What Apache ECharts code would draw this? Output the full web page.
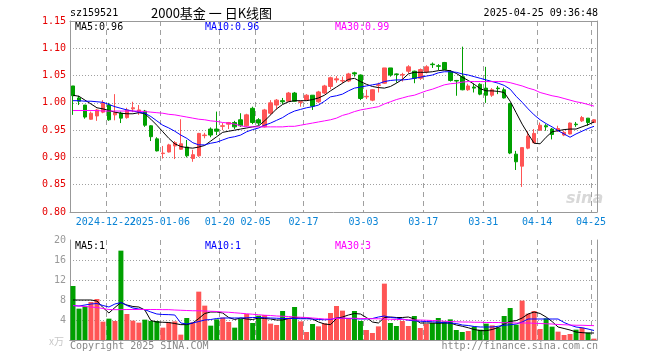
<!DOCTYPE html>
<html><head><meta charset="utf-8">
<script src="https://cdn.jsdelivr.net/npm/echarts@6/dist/echarts.min.js"></script>
<style>html,body{margin:0;padding:0;background:#fff}#c{width:660px;height:360px}</style>
</head><body><div id="c"></div>
<script>
const dates = [
'2024-12-13','2024-12-16','2024-12-17','2024-12-18','2024-12-19','2024-12-20','2024-12-23','2024-12-24','2024-12-25','2024-12-26','2024-12-27','2024-12-30','2024-12-31',
'2025-01-02','2025-01-03','2025-01-06','2025-01-07','2025-01-08','2025-01-09','2025-01-10','2025-01-13','2025-01-14','2025-01-15','2025-01-16','2025-01-17','2025-01-20','2025-01-21','2025-01-22','2025-01-23','2025-01-24','2025-01-27',
'2025-02-05','2025-02-06','2025-02-07','2025-02-10','2025-02-11','2025-02-12','2025-02-13','2025-02-14','2025-02-17','2025-02-18','2025-02-19','2025-02-20','2025-02-21','2025-02-24','2025-02-25','2025-02-26','2025-02-27','2025-02-28',
'2025-03-03','2025-03-04','2025-03-05','2025-03-06','2025-03-07','2025-03-10','2025-03-11','2025-03-12','2025-03-13','2025-03-14','2025-03-17','2025-03-18','2025-03-19','2025-03-20','2025-03-21','2025-03-24','2025-03-25','2025-03-26','2025-03-27','2025-03-28','2025-03-31',
'2025-04-01','2025-04-02','2025-04-03','2025-04-07','2025-04-08','2025-04-09','2025-04-10','2025-04-11','2025-04-14','2025-04-15','2025-04-16','2025-04-17','2025-04-18','2025-04-21','2025-04-22','2025-04-23','2025-04-24','2025-04-25'];

const opens = [1.031,1.009,0.996,0.970,0.976,0.983,0.996,0.978,0.981,0.973,
0.989,0.983,0.985,0.958,0.934,0.907,0.910,0.921,0.915,0.919,
0.898,0.903,0.940,0.952,0.952,0.957,0.961,0.964,0.969,0.958,
0.990,0.969,0.956,0.981,0.996,1.004,1.003,1.018,1.001,1.005,
1.014,1.002,1.018,1.030,1.042,1.040,1.040,1.055,1.051,1.011,
1.005,1.032,1.036,1.064,1.053,1.051,1.058,1.058,1.045,1.057,
1.071,1.068,1.074,1.057,1.041,1.048,1.024,1.029,1.034,1.027,
1.014,1.027,1.024,0.999,0.906,0.884,0.917,0.927,0.950,0.958,
0.952,0.949,0.941,0.943,0.961,0.967,0.972,0.964];

const closes = [1.013,1.003,0.974,0.981,0.987,1.000,0.969,0.982,0.972,0.987,
0.991,0.987,0.959,0.938,0.912,0.908,0.923,0.927,0.925,0.903,
0.905,0.944,0.941,0.941,0.948,0.958,0.964,0.956,0.958,0.978,
0.964,0.963,0.987,1.000,1.005,1.002,1.018,1.003,1.002,1.014,
0.994,1.020,1.031,1.046,1.044,1.041,1.053,1.053,1.008,1.012,
1.024,1.033,1.064,1.051,1.052,1.052,1.066,1.045,1.061,1.066,
1.070,1.067,1.061,1.041,1.040,1.024,1.031,1.027,1.016,1.014,
1.024,1.026,1.009,0.908,0.892,0.918,0.939,0.944,0.959,0.956,
0.942,0.953,0.946,0.963,0.960,0.973,0.964,0.969];

const lows = [0.978,0.996,0.971,0.969,0.967,0.981,0.967,0.968,0.963,0.971,
0.983,0.978,0.956,0.930,0.911,0.898,0.909,0.897,0.914,0.900,
0.892,0.901,0.935,0.937,0.941,0.950,0.952,0.952,0.956,0.956,
0.961,0.959,0.955,0.978,0.988,0.998,1.002,1.002,0.993,1.004,
0.987,1.000,1.016,1.025,1.037,1.036,1.038,1.048,1.005,1.007,
1.003,1.019,1.035,1.048,1.037,1.039,1.054,1.036,1.042,1.054,
1.064,1.060,1.060,1.039,1.013,1.023,1.022,1.019,1.014,1.000,
1.011,1.016,1.008,0.906,0.877,0.846,0.915,0.926,0.949,0.949,
0.933,0.947,0.939,0.942,0.956,0.965,0.958,0.963];

const highs = [1.031,1.013,0.996,0.984,0.989,1.005,1.000,1.016,0.984,0.991,
1.002,0.996,0.987,0.959,0.937,0.921,0.925,0.930,0.970,0.932,
0.914,0.945,0.945,0.955,0.984,0.963,0.965,0.967,0.981,0.980,
0.993,0.972,0.989,1.005,1.007,1.009,1.020,1.020,1.004,1.016,
1.014,1.022,1.033,1.048,1.049,1.048,1.055,1.057,1.052,1.024,
1.025,1.037,1.064,1.064,1.054,1.055,1.069,1.059,1.063,1.069,
1.074,1.071,1.075,1.060,1.042,1.103,1.035,1.035,1.036,1.066,
1.027,1.031,1.028,0.999,0.912,0.918,0.948,0.952,0.964,0.961,
0.954,0.958,0.949,0.964,0.965,0.976,0.972,0.970];

const ma5 = [1.014,1.012,1.005,0.998,0.991,0.989,0.986,0.983,0.981,0.980,
0.980,0.982,0.980,0.970,0.959,0.947,0.935,0.925,0.920,0.918,
0.917,0.919,0.922,0.930,0.938,0.946,0.948,0.950,0.952,0.954,
0.956,0.958,0.967,0.978,0.989,0.997,1.002,1.004,1.004,1.004,
1.006,1.009,1.014,1.022,1.029,1.036,1.043,1.045,1.039,1.034,
1.030,1.028,1.027,1.030,1.036,1.043,1.053,1.056,1.056,1.056,
1.057,1.059,1.060,1.059,1.054,1.047,1.041,1.034,1.026,1.022,
1.022,1.021,1.019,1.003,0.982,0.961,0.943,0.926,0.925,0.937,
0.947,0.949,0.951,0.952,0.952,0.956,0.960,0.965];

const ma10 = [1.004,1.004,1.003,1.003,1.002,1.001,0.997,0.993,0.990,0.987,
0.985,0.983,0.981,0.975,0.967,0.959,0.954,0.948,0.941,0.935,
0.927,0.923,0.923,0.926,0.928,0.932,0.936,0.938,0.941,0.947,
0.951,0.954,0.959,0.963,0.968,0.973,0.980,0.985,0.988,0.991,
0.993,0.996,1.003,1.011,1.013,1.016,1.022,1.027,1.029,1.031,
1.033,1.035,1.039,1.041,1.042,1.042,1.043,1.045,1.047,1.049,
1.051,1.055,1.057,1.057,1.056,1.053,1.051,1.048,1.045,1.042,
1.039,1.036,1.032,1.025,1.012,1.001,0.989,0.978,0.969,0.962,
0.956,0.949,0.943,0.937,0.943,0.948,0.953,0.957];

const ma30 = [0.986,0.986,0.986,0.986,0.986,0.985,0.985,0.985,0.985,0.985,
0.985,0.985,0.984,0.983,0.982,0.981,0.979,0.978,0.976,0.974,
0.972,0.970,0.969,0.967,0.966,0.964,0.963,0.961,0.958,0.956,
0.956,0.956,0.956,0.956,0.956,0.956,0.957,0.957,0.959,0.961,
0.963,0.965,0.967,0.969,0.972,0.977,0.980,0.984,0.987,0.989,
0.991,0.993,0.998,1.002,1.006,1.009,1.012,1.014,1.018,1.022,
1.025,1.029,1.033,1.035,1.036,1.038,1.039,1.039,1.039,1.039,
1.039,1.039,1.039,1.037,1.034,1.031,1.027,1.024,1.019,1.016,
1.013,1.011,1.008,1.005,1.002,1.000,0.997,0.994];

const volumes = [10.8,6.27,6.73,7.6,8.2,3.67,4.27,3.8,17.87,5.2,
3.87,3.47,4.07,3.8,3.8,2.47,3.53,3.73,1.07,4.4,
3.53,9.67,6.87,2.87,4.13,4.47,3.6,2.47,4.27,5.2,
3.4,4.87,5.0,3.27,3.0,5.8,4.47,6.6,3.73,1.6,
3.2,2.73,3.33,5.4,6.8,5.87,4.4,5.8,3.8,2.0,
1.4,2.73,11.27,3.4,2.8,3.8,2.8,4.8,2.4,3.2,
3.4,4.4,3.73,4.13,2.0,1.6,1.8,2.67,2.07,3.27,
2.93,2.53,4.8,6.4,3.07,7.87,5.27,5.8,2.2,4.33,
2.67,1.67,1.0,1.2,2.07,2.47,1.47,0.27];

const volMa5 = [8.0,8.0,8.0,8.0,7.8,6.5,5.4,6.5,7.5,7.0,
6.7,6.6,6.0,3.9,3.6,3.55,3.5,3.3,3.07,3.07,
3.4,4.3,5.3,5.6,5.6,5.4,4.5,4.1,4.4,4.2,
4.1,4.4,4.3,4.2,4.0,4.0,4.3,4.5,4.4,4.4,
4.2,3.6,3.2,3.07,4.3,4.6,5.0,5.3,5.2,4.5,
3.6,3.4,4.5,4.6,4.5,4.5,4.6,4.2,3.4,3.4,
3.4,3.35,3.4,3.4,3.0,2.75,2.45,2.1,1.87,1.87,
2.1,2.5,3.2,3.73,3.87,4.4,5.2,5.6,5.3,4.6,
3.7,2.6,2.3,2.0,1.6,1.47,1.4,1.4];

const volMa10 = [6.9,6.8,7.0,7.2,7.3,6.9,6.6,7.2,7.5,6.9,
6.4,6.2,6.07,5.6,5.2,5.1,5.07,5.0,3.4,3.2,
3.4,3.7,4.0,4.1,4.3,4.4,4.4,4.4,4.4,4.45,
4.5,4.5,4.45,4.4,4.35,4.3,4.3,4.3,4.25,4.25,
4.2,4.1,4.05,4.1,4.4,4.35,4.3,4.25,4.2,4.2,
4.3,4.6,4.8,4.5,4.4,4.2,3.95,3.85,3.75,3.7,
3.65,3.55,3.45,3.4,3.3,3.0,2.9,2.7,2.6,2.6,
2.6,2.75,2.95,3.05,3.2,3.6,4.2,4.2,4.2,4.2,
4.2,4.2,3.5,3.0,2.6,2.45,2.2,1.9];

const volMa30 = [6.87,6.8,6.7,6.6,6.5,6.3,6.1,6.07,6.07,6.1,
6.1,6.1,6.1,6.1,6.1,6.07,6.07,6.0,5.95,5.9,
5.85,5.85,5.8,5.75,5.7,5.6,5.55,5.45,5.35,5.25,
5.15,5.05,4.95,4.9,4.8,4.75,4.7,4.6,4.55,4.5,
4.4,4.3,4.2,4.2,4.3,4.35,4.35,4.35,4.3,4.3,
4.25,4.25,4.2,4.15,4.1,4.1,4.05,4.0,4.0,3.95,
3.9,3.85,3.75,3.7,3.65,3.6,3.6,3.55,3.55,3.5,
3.5,3.5,3.45,3.45,3.4,3.4,3.4,3.35,3.3,3.25,
3.2,3.1,3.05,3.0,2.95,2.95,2.9,2.87];

const tickIndex = [6,15,25,31,39,49,59,69,78,87];
const tickLabels = ['2024-12-22','2025-01-06','01-20','02-05','02-17','03-03','03-17','03-31','04-14','04-25'];

const headerCode = 'sz159521';
const headerTitle = '2000基金 一 日K线图';
const headerTime = '2025-04-25 09:36:48';
const priceMaText = ['MA5:0.96','MA10:0.96','MA30:0.99'];
const volMaText = ['MA5:1','MA10:1','MA30:3'];

const UP = '#ff5555', DOWN = '#00a000';
const FRAMEC = '#999999';
const GRIDC = '#a0a0a0';
const MONO = '"DejaVu Sans Mono", monospace';
const tickMap = new Map(tickIndex.map((v,k)=>[v,tickLabels[k]]));
const isTick = (i)=>tickMap.has(i);
const isTickA = (i)=>isTick(i) && tickIndex.indexOf(i)%2===0;
const isTickB = (i)=>isTick(i) && tickIndex.indexOf(i)%2===1;

const chart = echarts.init(document.getElementById('c'));
const txt = (text,x,y,color,font,align)=>({type:'text', silent:true, style:{text, x, y, fill:color, font, align:align||'left', verticalAlign:'middle'}});
const mkLine = (data, color, xi, yi)=>({type:'line', data, xAxisIndex:xi, yAxisIndex:yi, symbol:'none', showSymbol:false, silent:true, lineStyle:{color, width:1}, z:5});
// ticks kept "on" but invisible: split lines follow the tick computation
const hiddenTickX = {show:true, length:0, interval:(i)=>isTick(i), lineStyle:{color:'rgba(0,0,0,0)'}};
const hiddenTickY = {show:true, length:0, lineStyle:{color:'rgba(0,0,0,0)'}};
const vSplit = {show:true, interval:(i)=>isTick(i), lineStyle:{color:GRIDC, width:1, type:[5,4]}};
const hSplit = {show:true, showMinLine:false, showMaxLine:false, lineStyle:{color:GRIDC, width:1, type:[1,2]}};
const labelBase = {color:'#0a84d6', fontFamily:MONO, fontSize:10, margin:5, padding:[0,6,0,0], hideOverlap:false};

chart.setOption({
  animation:false,
  grid:[
    {left:70, top:21, width:527, height:191, show:false},
    {left:70, top:240, width:527, height:100, show:false}
  ],
  xAxis:[
    {type:'category', gridIndex:0, data:dates, boundaryGap:true,
     axisLine:{lineStyle:{color:FRAMEC}}, axisTick:hiddenTickX,
     axisLabel:Object.assign({interval:(i)=>isTickA(i), formatter:(v,i)=>tickMap.get(i)||''}, labelBase),
     splitLine:vSplit},
    {type:'category', gridIndex:1, data:dates, boundaryGap:true,
     axisLine:{lineStyle:{color:FRAMEC}}, axisTick:hiddenTickX, axisLabel:{show:false},
     splitLine:vSplit},
    {type:'category', gridIndex:0, data:dates, boundaryGap:true, position:'bottom',
     axisLine:{show:false}, axisTick:{show:false}, splitLine:{show:false},
     axisLabel:Object.assign({interval:(i)=>isTickB(i), formatter:(v,i)=>tickMap.get(i)||''}, labelBase)},
    {type:'category', gridIndex:0, data:dates, position:'top', axisLine:{lineStyle:{color:FRAMEC}}, axisTick:{show:false}, axisLabel:{show:false}, splitLine:{show:false}},
    {type:'category', gridIndex:1, data:dates, position:'top', axisLine:{lineStyle:{color:FRAMEC}}, axisTick:{show:false}, axisLabel:{show:false}, splitLine:{show:false}}
  ],
  yAxis:[
    {type:'value', gridIndex:0, min:0.8, max:1.15, interval:0.05,
     axisLine:{show:true, lineStyle:{color:FRAMEC}}, axisTick:hiddenTickY,
     axisLabel:{formatter:(v)=>v.toFixed(2), color:'#e60000', fontFamily:MONO, fontSize:10, margin:4},
     splitLine:hSplit},
    {type:'value', gridIndex:1, min:0, max:20, interval:4,
     axisLine:{show:true, lineStyle:{color:FRAMEC}}, axisTick:hiddenTickY,
     axisLabel:{formatter:(v)=>v===0?'':String(v), color:'#999', fontFamily:MONO, fontSize:10, margin:4},
     splitLine:hSplit},
    {type:'value', gridIndex:0, position:'right', min:0.8, max:1.15, axisLine:{show:true, lineStyle:{color:FRAMEC}}, axisTick:{show:false}, axisLabel:{show:false}, splitLine:{show:false}},
    {type:'value', gridIndex:1, position:'right', min:0, max:20, axisLine:{show:true, lineStyle:{color:FRAMEC}}, axisTick:{show:false}, axisLabel:{show:false}, splitLine:{show:false}}
  ],
  series:[
    {type:'candlestick', xAxisIndex:0, yAxisIndex:0, barWidth:4, silent:true, z:3,
     data: dates.map((d,i)=>[opens[i], closes[i], lows[i], highs[i]]),
     itemStyle:{color:UP, color0:DOWN, borderColor:UP, borderColor0:DOWN, borderWidth:1}},
    mkLine(ma5,'#000000',0,0), mkLine(ma10,'#0000ff',0,0), mkLine(ma30,'#ff00ff',0,0),
    {type:'bar', xAxisIndex:1, yAxisIndex:1, barWidth:5, silent:true, z:3,
     data: volumes.map((v,i)=>({value:v, itemStyle:{color: closes[i]>=opens[i]?UP:DOWN}}))},
    mkLine(volMa5,'#000000',1,1), mkLine(volMa10,'#0000ff',1,1), mkLine(volMa30,'#ff00ff',1,1)
  ],
  graphic:[
    txt(headerCode,70,13,'#000','10px '+MONO),
    txt(headerTitle,151,13,'#000','13px "Noto Sans CJK SC"'),
    txt(headerTime,598,13,'#000','10px '+MONO,'right'),
    txt(priceMaText[0],75,27,'#000','10px '+MONO),
    txt(priceMaText[1],205,27,'#0000ff','10px '+MONO),
    txt(priceMaText[2],335,27,'#ff00ff','10px '+MONO),
    txt(volMaText[0],75,246,'#000','10px '+MONO),
    txt(volMaText[1],205,246,'#0000ff','10px '+MONO),
    txt(volMaText[2],335,246,'#ff00ff','10px '+MONO),
    txt('x万',49,341,'#c8c8c8','10px "Noto Sans CJK SC"'),
    txt('Copyright 2025 SINA.COM',70,346,'#888','10px '+MONO),
    txt('http://finance.sina.com.cn',598,346,'#888','10px '+MONO,'right'),
    txt('sina',566,199,'#d8d8d8','italic bold 16px "DejaVu Sans"')
  ]
});
</script></body></html>
